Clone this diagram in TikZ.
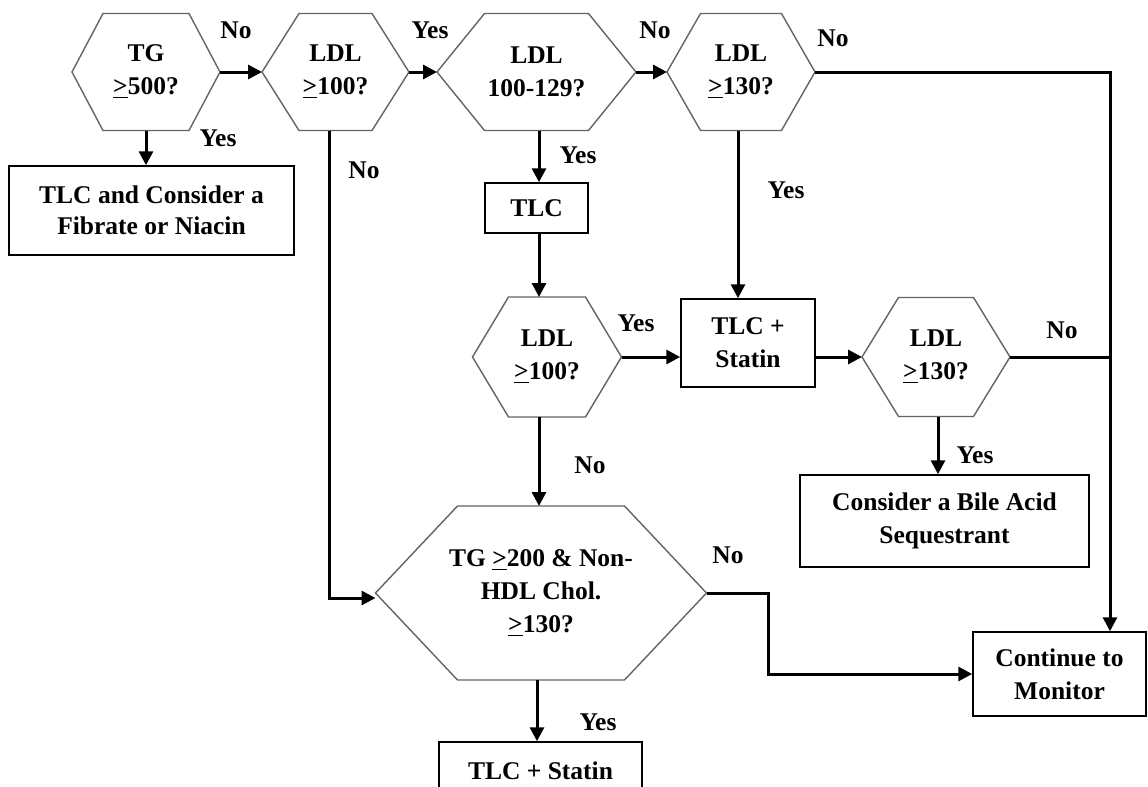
\documentclass[tikz,border=0pt]{standalone}
\usepackage{fontspec}
\setmainfont{Liberation Serif}
\usetikzlibrary{arrows.meta}
\newcommand{\gtu}{\underline{>}}
\newcommand{\hexnode}[7]{%
  \node[hexframe, minimum width=#3, minimum height=#4] (#1) at (#2) {};
  \draw[hexline] (#1.north west) -- (#1.north east) -- ([xshift=#5]#1.east) coordinate (#1-r)
     -- (#1.south east) -- (#1.south west) -- ([xshift=-#5]#1.west) coordinate (#1-l) -- cycle;
  \node[txt] (#1-t) at (#1) {#6};}
\begin{document}
\begin{tikzpicture}[x=0.5pt,y=-0.5pt,
  font=\bfseries\fontsize{12.75}{16.5}\selectfont,
  hexframe/.style={rectangle, inner sep=0pt, outer sep=0pt},
  hexline/.style={draw={rgb,255:red,100;green,100;blue,100}, line width=0.7pt, line join=miter},
  txt/.style={align=center, inner sep=0pt},
  box/.style={draw=black, line width=0.75pt, inner sep=0pt, align=center},
  arr/.style={draw=black, line width=1.5pt, -{Triangle[length=7pt,width=7pt]}},
  ln/.style={draw=black, line width=1.5pt},
  lbl/.style={inner sep=0pt}]
\useasboundingbox (0,0) rectangle (1148,787);
\clip (0,0) rectangle (1148,787);
\fill[white] (0,0) rectangle (1148,787);

% hexagons
\hexnode{h1}{146,72}{43pt}{58.5pt}{15.5pt}{TG\\\gtu500?}{}
\hexnode{h2}{335.5,72}{36.5pt}{58.5pt}{18.5pt}{LDL\\\gtu100?}{}
\hexnode{h3}{536.5,72}{52pt}{58.5pt}{23.75pt}{LDL\\100-129?}{}
\hexnode{h4}{741,72}{40.5pt}{58.5pt}{16.75pt}{LDL\\\gtu130?}{}
\hexnode{h5}{547,357}{38.5pt}{60pt}{18pt}{LDL\\\gtu100?}{}
\hexnode{h6}{541,593}{83.5pt}{87pt}{41pt}{TG \gtu200 \& Non-\\HDL Chol.\\\gtu130?}{}
\hexnode{h7}{936,357}{37.5pt}{59.5pt}{18.25pt}{LDL\\\gtu130?}{}

% boxes
\node[box, minimum width=142.5pt, minimum height=44.5pt] (b1) at (151.5,210.5)
  {TLC and Consider a\\[-1pt]Fibrate or Niacin};
\node[box, minimum width=51.5pt, minimum height=25pt] (tlc) at (536.5,208) {TLC};
\node[box, minimum width=67pt, minimum height=44pt] (ts) at (748,343) {TLC +\\Statin};
\node[box, minimum width=144.5pt, minimum height=46pt] (bile) at (944.5,521)
  {Consider a Bile Acid\\Sequestrant};
\node[box, minimum width=86.5pt, minimum height=42pt] (cont) at (1059.5,674)
  {Continue to\\Monitor};
\node[box, minimum width=101.5pt, minimum height=29pt] (ts2) at (540.5,771) {TLC + Statin};

% routing coordinates
\coordinate (c1) at (1110,72);
\coordinate (c2) at (329,598);
\coordinate (c3) at (768,597);
\coordinate (c4) at (539,0);

% connectors
\draw[arr] (h1-r) -- (h2-l);
\draw[arr] (h2-r) -- (h3-l);
\draw[arr] (h3-r) -- (h4-l);
\draw[arr] (h4-r) -- (c1) -- (c1 |- cont.north);
\draw[arr] (h1.south) -- (h1.south |- b1.north);
\draw[arr] (c2 |- h2.south) -- (c2) -- (h6-l |- c2);
\draw[arr] (c4 |- h3.south) -- (c4 |- tlc.north);
\draw[arr] (c4 |- tlc.south) -- (c4 |- h5.north);
\draw[arr] ([xshift=-1.5pt]h4.south) -- ([xshift=-1.5pt]h4.south |- ts.north);
\draw[arr] (h5-r) -- (h5-r -| ts.west);
\draw[arr] (ts.east |- h7-l) -- (h7-l);
\draw[ln] (h7-r) -- (c1 |- h7-r);
\draw[arr] ([xshift=1pt]h7.south) -- ([xshift=1pt]h7.south |- bile.north);
\draw[arr] (c4 |- h5.south) -- (c4 |- h6.north);
\draw[arr] (h6-r) -- (c3 |- h6-r) -- (c3 |- cont.west) -- (cont.west);
\draw[arr] ([xshift=-2pt]h6.south) -- ([xshift=-2pt]h6.south |- ts2.north);

% labels
\node[lbl] (l1) at (236,30) {No};
\node[lbl] (l2) at (430,30) {Yes};
\node[lbl] (l3) at (655,30) {No};
\node[lbl] (l4) at (833,38) {No};
\node[lbl] (l5) at (218,138) {Yes};
\node[lbl] (l6) at (364,170) {No};
\node[lbl] (l7) at (578,155) {Yes};
\node[lbl] (l8) at (786,190) {Yes};
\node[lbl] (l9) at (636,323) {Yes};
\node[lbl] (l10) at (1062,330) {No};
\node[lbl] (l11) at (590,465) {No};
\node[lbl] (l12) at (975,455) {Yes};
\node[lbl] (l13) at (728,555) {No};
\node[lbl] (l14) at (598,722) {Yes};
\end{tikzpicture}
\end{document}
